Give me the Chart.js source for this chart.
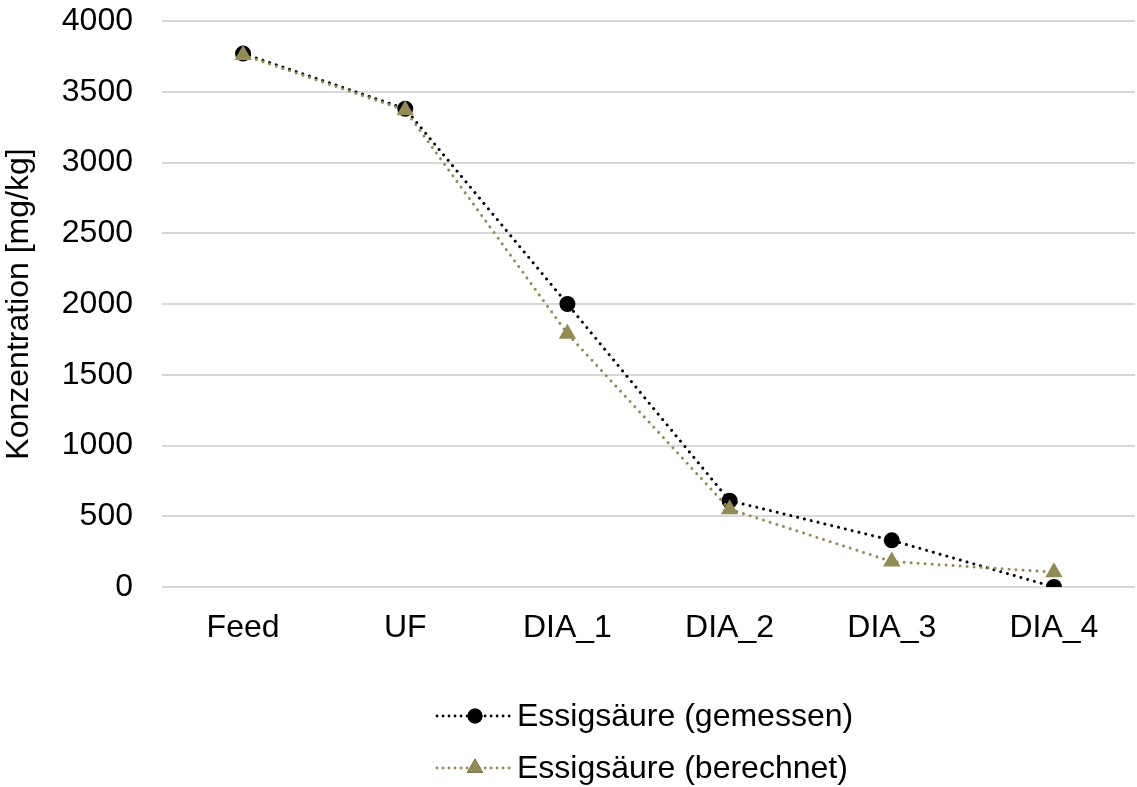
<!DOCTYPE html>
<html>
<head>
<meta charset="utf-8">
<script src="https://cdn.jsdelivr.net/npm/chart.js@4.4.1/dist/chart.umd.min.js"></script>
<style>
  html, body { margin: 0; padding: 0; background: #fff; }
  #wrap { width: 1137px; height: 787px; }
</style>
</head>
<body>
<div id="wrap"><canvas id="myChart" width="1137" height="787"></canvas></div>
<script>
const categories = ['Feed', 'UF', 'DIA_1', 'DIA_2', 'DIA_3', 'DIA_4'];
const gemessen = [3770, 3380, 2000, 610, 330, 0];
const berechnet = [3760, 3370, 1790, 550, 180, 105];
const yTicks = [0, 500, 1000, 1500, 2000, 2500, 3000, 3500, 4000];

const FONT = '"Liberation Sans", Arial, sans-serif';
const FS = 32;
const OLIVE = '#948a54';

// legend drawn as dotted line with marker in the middle, like the series
const lineLegend = {
    id: 'lineLegend',
    afterDraw(chart) {
        const ctx = chart.ctx;
        const items = chart.data.datasets;
        ctx.save();
        ctx.font = FS + 'px ' + FONT;
        const lineW = 76, gap = 4;
        let maxText = 0;
        items.forEach(ds => { maxText = Math.max(maxText, ctx.measureText(ds.label).width); });
        const total = lineW + gap + maxText;
        const x0 = Math.round((chart.width - total) / 2) + 77;
        const rows = [716, 768];
        items.forEach((ds, i) => {
            const y = rows[i];
            ctx.beginPath();
            ctx.strokeStyle = ds.borderColor;
            ctx.lineWidth = 2.8;
            ctx.lineCap = 'round';
            ctx.setLineDash([0.01, 6]);
            ctx.moveTo(x0, y);
            ctx.lineTo(x0 + lineW, y);
            ctx.stroke();
            ctx.setLineDash([]);
            Chart.helpers.drawPoint(ctx, {
                pointStyle: ds.pointStyle,
                radius: ds.pointStyle === 'triangle' ? 9.5 : 7.5,
                rotation: 0,
                borderWidth: 0
            }, x0 + lineW / 2, y);
            ctx.fillStyle = ds.borderColor;
            ctx.fill();
            ctx.fillStyle = '#000';
            ctx.textAlign = 'left';
            ctx.textBaseline = 'middle';
            ctx.fillText(ds.label, x0 + lineW + gap, y + 1);
        });
        ctx.restore();
    }
};

new Chart(document.getElementById('myChart'), {
    type: 'line',
    data: {
        labels: categories,
        datasets: [
            {
                label: 'Essigsäure (gemessen)',
                data: gemessen,
                borderColor: '#000',
                backgroundColor: '#000',
                borderWidth: 3,
                borderDash: [0.01, 7],
                borderCapStyle: 'round',
                pointStyle: 'circle',
                pointRadius: 8,
                pointBorderWidth: 0,
                order: 1
            },
            {
                label: 'Essigsäure (berechnet)',
                data: berechnet,
                borderColor: OLIVE,
                backgroundColor: OLIVE,
                borderWidth: 3,
                borderDash: [0.01, 7],
                borderCapStyle: 'round',
                pointStyle: 'triangle',
                pointRadius: 10,
                pointBorderWidth: 0,
                order: 0
            }
        ]
    },
    options: {
        responsive: false,
        animation: false,
        layout: { autoPadding: false, padding: { top: 21, right: 2, bottom: 130, left: 0 } },
        plugins: {
            legend: { display: false },
            tooltip: { enabled: false }
        },
        scales: {
            x: {
                offset: true,
                grid: { display: false, drawTicks: false, offset: true },
                border: { display: false },
                ticks: { color: '#000', font: { family: FONT, size: FS }, padding: 22, maxRotation: 0 },
                afterFit(axis) {
                    axis.height = 70;
                    axis.paddingLeft = 0;
                    axis.paddingRight = 0;
                }
            },
            y: {
                min: 0,
                max: 4000,
                afterBuildTicks(axis) { axis.ticks = yTicks.map(v => ({ value: v })); },
                grid: { color: '#d9d9d9', lineWidth: 2, drawTicks: false },
                border: { display: false },
                ticks: {
                    color: '#000',
                    font: { family: FONT, size: FS },
                    padding: 29,
                    callback: v => String(v)
                },
                title: {
                    display: true,
                    text: 'Konzentration [mg/kg]',
                    color: '#000',
                    font: { family: FONT, size: FS },
                    padding: { top: 0, bottom: 0 }
                },
                afterFit(axis) {
                    axis.width = 162;
                    axis.paddingTop = 0;
                    axis.paddingBottom = 0;
                }
            }
        }
    },
    plugins: [lineLegend]
});
</script>
</body>
</html>
